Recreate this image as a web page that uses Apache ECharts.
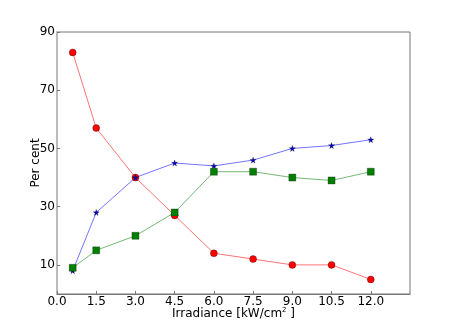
<!DOCTYPE html>
<html lang="en">
<head>
	<meta charset="UTF-8">
	<title>Irradiance chart</title>
	<script type="text/javascript" src="https://cdn.jsdelivr.net/npm/echarts@6/dist/echarts.min.js"></script>
	<style>
		html, body { margin: 0; padding: 0; background: #fff; }
	</style>
</head>
<body>
	<div id="main" style="width: 456px;height: 327px;"></div>
	<script type="text/javascript">
		var irradiance = [0.6, 1.5, 3.0, 4.5, 6.0, 7.5, 9.0, 10.5, 12.0];
		var redVals = [83, 57, 40, 27, 14, 12, 10, 10, 5];
		var blueVals = [8, 28, 40, 45, 44, 46, 50, 51, 53];
		var greenVals = [9, 15, 20, 28, 42, 42, 40, 39, 42];
		var xTicks = [0, 1.5, 3.0, 4.5, 6.0, 7.5, 9.0, 10.5, 12.0];
		var yTicks = [10, 30, 50, 70, 90];

		function pairs(ys) {
			return irradiance.map(function (x, i) { return [x, ys[i]]; });
		}

		var star = 'path://M50,0 L61,35 L98,35 L68,57 L79,91 L50,70 L21,91 L32,57 L2,35 L39,35 Z';
		var font = 'DejaVu Sans';

		var myChart = echarts.init(document.getElementById('main'));
		var option = {
			animation: false,
			grid: { left: 57, right: 46, top: 32, bottom: 33, show: true, borderColor: '#777', borderWidth: 1 },
			xAxis: {
				type: 'value',
				min: 0,
				max: 13.5,
				name: 'Irradiance [kW/cm{s|2} ]',
				nameLocation: 'middle',
				nameGap: 13,
				nameMoveOverlap: false,
				nameTextStyle: {
					fontFamily: font, fontSize: 12, color: '#000', verticalAlign: 'top',
					rich: { s: { fontFamily: font, fontSize: 7, verticalAlign: 'top', padding: [0, 0, 6, 0] } }
				},
				axisLine: { show: true, lineStyle: { color: '#777' } },
				axisTick: { show: true, inside: true, length: 3, customValues: xTicks, lineStyle: { color: '#777' } },
				axisLabel: {
					customValues: xTicks,
					fontFamily: font, fontSize: 12, color: '#000', margin: 2,
					formatter: function (v) { return v.toFixed(1); }
				},
				splitLine: { show: false }
			},
			yAxis: {
				type: 'value',
				min: 0,
				max: 90,
				name: 'Per cent',
				nameLocation: 'middle',
				nameGap: 15,
				nameMoveOverlap: false,
				nameTextStyle: { fontFamily: font, fontSize: 12, color: '#000', verticalAlign: 'bottom' },
				axisLine: { show: true, lineStyle: { color: '#bbb', width: 2 } },
				axisTick: { show: true, inside: true, length: 3, customValues: yTicks, lineStyle: { color: '#777' } },
				axisLabel: {
					customValues: yTicks,
					fontFamily: font, fontSize: 12, color: '#000', margin: 2
				},
				splitLine: { show: false }
			},
			series: [
				{
					type: 'line',
					data: pairs(redVals),
					symbol: 'circle',
					symbolSize: 7,
					itemStyle: { color: '#ff0000', borderColor: '#000', borderWidth: 0.3 },
					lineStyle: { color: '#ff0000', width: 1, opacity: 0.55 }
				},
				{
					type: 'line',
					data: pairs(blueVals),
					symbol: star,
					symbolSize: 6,
					itemStyle: { color: '#0000cc', borderColor: '#000', borderWidth: 0.3 },
					lineStyle: { color: '#0000ff', width: 1, opacity: 0.55 }
				},
				{
					type: 'line',
					data: pairs(greenVals),
					symbol: 'rect',
					symbolSize: 7,
					itemStyle: { color: '#007f00', borderColor: '#000', borderWidth: 0.3 },
					lineStyle: { color: '#008000', width: 1, opacity: 0.55 }
				}
			]
		};
		myChart.setOption(option);
	</script>
</body>
</html>
